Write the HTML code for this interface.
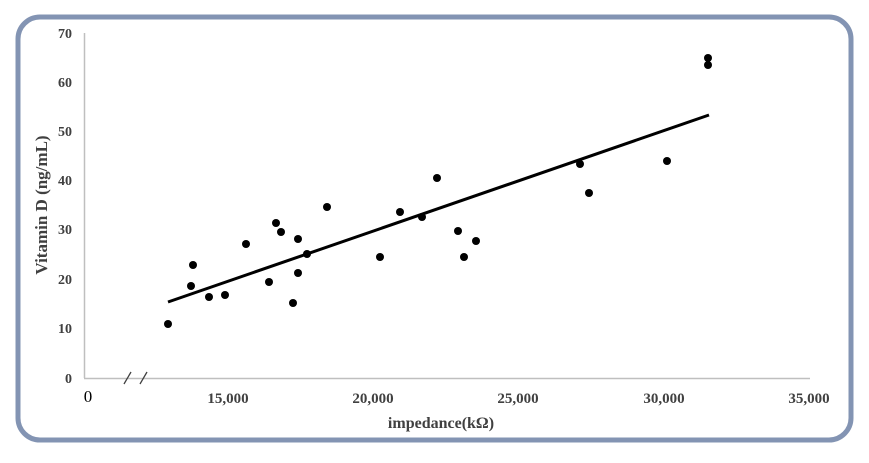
<!DOCTYPE html>
<html><head><meta charset="utf-8"><style>
html,body{margin:0;padding:0;background:#fff;}
</style></head><body>
<svg width="869" height="458" viewBox="0 0 869 458" xmlns="http://www.w3.org/2000/svg" font-family="Liberation Serif, serif">
<rect x="0" y="0" width="869" height="458" fill="#fff"/>
<rect x="18" y="17" width="833" height="423" rx="22" ry="22" fill="#fff" stroke="#8394b3" stroke-width="5"/>
<line x1="84.5" y1="33" x2="84.5" y2="378" stroke="#bfbfbf" stroke-width="1.5"/>
<line x1="84" y1="378.5" x2="810" y2="378.5" stroke="#bfbfbf" stroke-width="1.5"/>
<line x1="124" y1="384" x2="131" y2="372" stroke="#404040" stroke-width="1.3"/>
<line x1="140" y1="384" x2="147" y2="372" stroke="#404040" stroke-width="1.3"/>
<g font-size="14" font-weight="bold" fill="#404040" text-anchor="end">
<text x="72" y="38">70</text><text x="72" y="87">60</text><text x="72" y="136">50</text>
<text x="72" y="185">40</text><text x="72" y="234">30</text><text x="72" y="284">20</text>
<text x="72" y="333">10</text><text x="72" y="383">0</text>
</g>
<g font-size="15" font-weight="bold" fill="#404040" text-anchor="middle">
<text x="228" y="403">15,000</text><text x="373" y="403">20,000</text><text x="518" y="403">25,000</text>
<text x="664" y="403">30,000</text><text x="809" y="403">35,000</text>
</g>
<text x="88" y="402" font-size="17" fill="#000" text-anchor="middle">0</text>
<text x="441" y="428" font-size="16" font-weight="bold" fill="#404040" text-anchor="middle">impedance(kΩ)</text>
<text transform="translate(47,205) rotate(-90)" font-size="17" font-weight="bold" fill="#404040" text-anchor="middle">Vitamin D (ng/mL)</text>
<line x1="168" y1="302" x2="709" y2="115" stroke="#000" stroke-width="3"/>
<g fill="#000">
<circle cx="168" cy="324" r="4"/><circle cx="191" cy="286" r="4"/><circle cx="193" cy="265" r="4"/>
<circle cx="209" cy="297" r="4"/><circle cx="225" cy="295" r="4"/><circle cx="246" cy="244" r="4"/>
<circle cx="269" cy="282" r="4"/><circle cx="276" cy="223" r="4"/><circle cx="281" cy="232" r="4"/>
<circle cx="293" cy="303" r="4"/><circle cx="298" cy="239" r="4"/><circle cx="298" cy="273" r="4"/>
<circle cx="307" cy="254" r="4"/><circle cx="327" cy="207" r="4"/><circle cx="380" cy="257" r="4"/>
<circle cx="400" cy="212" r="4"/><circle cx="422" cy="217" r="4"/><circle cx="437" cy="178" r="4"/>
<circle cx="458" cy="231" r="4"/><circle cx="464" cy="257" r="4"/><circle cx="476" cy="241" r="4"/>
<circle cx="580" cy="164" r="4"/><circle cx="589" cy="193" r="4"/><circle cx="667" cy="161" r="4"/>
<circle cx="708" cy="58" r="4"/><circle cx="708" cy="65" r="4"/>
</g>
</svg>
</body></html>
